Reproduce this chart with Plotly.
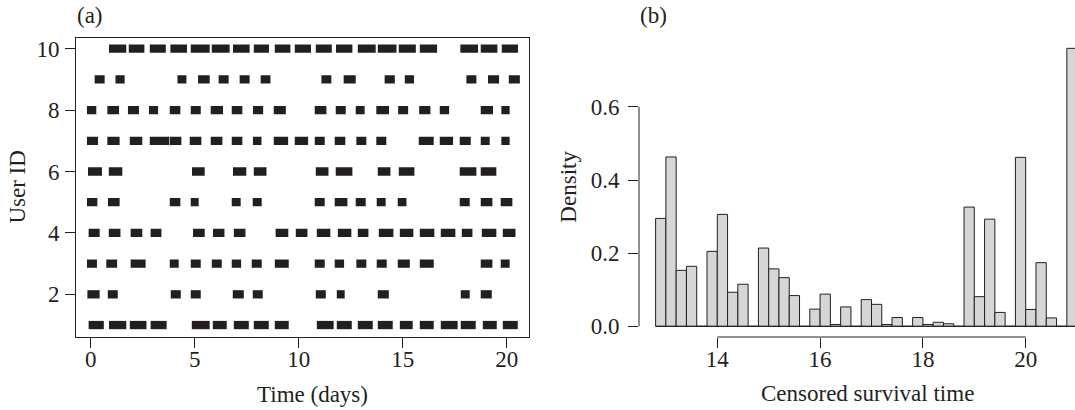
import plotly.graph_objects as go

# ---------------- Panel (a): sessions per user (start, end) in days ----------------
user_01 = [(-0.10, 0.63), (0.88, 1.71), (1.88, 2.68), (2.88, 3.65), (4.86, 5.72), (5.87, 6.54),
           (6.88, 7.60), (7.84, 8.56), (8.85, 9.52), (10.87, 11.68), (11.83, 12.55), (12.84, 13.56),
           (13.80, 14.52), (14.86, 15.48), (15.82, 16.49), (16.83, 17.64), (17.79, 18.51),
           (18.85, 19.52), (19.81, 20.53)]
user_02 = [(-0.16, 0.43), (0.82, 1.30), (3.85, 4.33), (4.81, 5.29), (6.83, 7.36), (7.79, 8.27),
           (10.82, 11.30), (11.83, 12.21), (13.80, 14.33), (17.79, 18.22), (18.75, 19.28)]
user_03 = [(-0.18, 0.30), (0.75, 1.27), (1.92, 2.64), (3.80, 4.23), (4.81, 5.29), (5.82, 6.30),
           (6.78, 7.23), (7.74, 8.22), (8.85, 9.52), (10.77, 11.25), (11.73, 12.18), (12.77, 13.25),
           (13.75, 14.23), (14.76, 15.34), (15.82, 16.49), (18.75, 19.31), (19.71, 20.14)]
user_04 = [(-0.10, 0.43), (0.87, 1.43), (1.92, 2.48), (2.88, 3.40), (4.92, 5.48), (5.88, 6.43),
           (6.88, 7.44), (8.89, 9.50), (9.86, 10.42), (10.87, 11.52), (11.88, 12.53), (12.84, 13.35),
           (13.85, 14.55), (14.86, 15.51), (15.82, 16.52), (16.83, 17.53), (17.84, 18.35),
           (18.80, 19.50), (19.81, 20.42)]
user_05 = [(-0.18, 0.32), (0.83, 1.39), (3.80, 4.31), (4.81, 5.19), (6.78, 7.21), (7.79, 8.22),
           (10.77, 11.25), (11.73, 12.34), (12.74, 13.22), (13.75, 14.18), (14.76, 15.18),
           (17.74, 18.22), (18.75, 19.31), (19.71, 20.27)]
user_06 = [(-0.13, 0.54), (0.87, 1.52), (4.87, 5.48), (6.84, 7.48), (7.84, 8.45), (10.82, 11.43),
           (11.78, 12.58), (13.80, 14.41), (14.81, 15.56), (17.74, 18.54), (18.75, 19.50)]
user_07 = [(-0.18, 0.35), (0.80, 1.39), (1.88, 2.48), (2.84, 3.77), (3.80, 4.36), (4.76, 5.32),
           (5.77, 6.33), (6.78, 7.29), (7.80, 8.21), (8.80, 9.49), (9.81, 10.45), (10.77, 11.25),
           (11.73, 12.24), (12.77, 13.25), (13.73, 14.21), (15.77, 16.49), (16.78, 17.42),
           (17.74, 18.27), (18.75, 19.18), (19.74, 20.14)]
user_08 = [(-0.18, 0.27), (0.80, 1.36), (1.79, 2.32), (2.80, 3.24), (3.80, 4.31), (4.81, 5.29),
           (5.77, 6.36), (6.78, 7.29), (7.80, 8.29), (8.80, 9.38), (10.77, 11.33), (11.78, 12.26),
           (12.74, 13.17), (13.73, 14.34), (14.78, 15.26), (15.79, 16.33), (16.78, 17.23),
           (18.75, 19.34), (19.74, 20.14)]
user_09 = [(0.19, 0.67), (1.19, 1.63), (4.17, 4.60), (5.16, 5.72), (6.15, 6.63), (7.16, 7.64),
           (8.17, 8.64), (11.09, 11.57), (12.16, 12.74), (14.13, 14.62), (15.10, 15.54),
           (18.06, 18.54), (19.10, 19.63), (20.10, 20.63)]
user_10 = [(0.88, 1.71), (1.83, 2.58), (2.84, 3.61), (3.83, 4.63), (4.81, 5.72), (5.82, 6.68),
           (6.84, 7.64), (7.84, 8.57), (8.85, 9.60), (9.81, 10.59), (10.82, 11.59), (11.79, 12.58),
           (12.84, 13.70), (13.80, 14.70), (14.81, 15.63), (15.82, 16.65), (17.77, 18.62),
           (18.75, 19.55), (19.76, 20.54)]

user_ids = [1, 2, 3, 4, 5, 6, 7, 8, 9, 10]
user_sessions = [user_01, user_02, user_03, user_04, user_05,
                 user_06, user_07, user_08, user_09, user_10]

a_xticks = [0, 5, 10, 15, 20]
a_yticks = [2, 4, 6, 8, 10]

# ---------------- Panel (b): histogram of censored survival time ----------------
bin_left = [12.8, 13.0, 13.2, 13.4, 13.6, 13.8, 14.0, 14.2, 14.4, 14.6,
            14.8, 15.0, 15.2, 15.4, 15.6, 15.8, 16.0, 16.2, 16.4, 16.6,
            16.8, 17.0, 17.2, 17.4, 17.6, 17.8, 18.0, 18.2, 18.4, 18.6,
            18.8, 19.0, 19.2, 19.4, 19.6, 19.8, 20.0, 20.2, 20.4, 20.6, 20.8]
density = [0.295, 0.463, 0.153, 0.164, 0.0, 0.205, 0.306, 0.093, 0.115, 0.0,
           0.214, 0.157, 0.133, 0.084, 0.0, 0.047, 0.088, 0.005, 0.053, 0.0,
           0.073, 0.060, 0.005, 0.024, 0.0, 0.024, 0.005, 0.011, 0.007, 0.0,
           0.326, 0.081, 0.293, 0.038, 0.0, 0.462, 0.046, 0.174, 0.023, 0.0, 0.76]
bin_width = 0.2
b_xticks = [14, 16, 18, 20]
b_yticks = [0.0, 0.2, 0.4, 0.6]
b_yticklabels = ["0.0", "0.2", "0.4", "0.6"]

# ---------------- layout constants (pixels) ----------------
W, H = 1075, 410
FONT = "Liberation Serif, Times New Roman, serif"
FS = 23
INK = "#231f20"

def px_x(p):
    return p / W

def px_y(p):
    return 1 - p / H

top_px, bot_px = 37, 338.5
a_left, a_right = 76, 529
b_left = 639

fig = go.Figure()

# panel (a) bars
seg_y, seg_base, seg_len = [], [], []
for uid, sess in zip(user_ids, user_sessions):
    for s, e in sess:
        seg_y.append(uid)
        seg_base.append(s)
        seg_len.append(e - s)

fig.add_trace(go.Bar(
    x=seg_len, y=seg_y, base=seg_base, orientation="h", width=0.27,
    marker=dict(color=INK, line=dict(width=0)),
    xaxis="x", yaxis="y", showlegend=False, hoverinfo="skip"))

# panel (b) histogram
centers = [b + bin_width / 2 for b in bin_left]
fig.add_trace(go.Bar(
    x=centers, y=density, width=bin_width,
    marker=dict(color="#d6d6d6", line=dict(color=INK, width=1)),
    xaxis="x2", yaxis="y2", showlegend=False, hoverinfo="skip"))
# baseline of the histogram (zero-count bins drawn as flat lines)
fig.add_trace(go.Scatter(
    x=[bin_left[0], bin_left[-1] + bin_width], y=[0, 0], mode="lines",
    line=dict(color=INK, width=1), xaxis="x2", yaxis="y2",
    showlegend=False, hoverinfo="skip", cliponaxis=False))

axis_common = dict(
    ticks="outside", ticklen=10, tickwidth=1, tickcolor=INK,
    tickfont=dict(family=FONT, size=FS, color=INK),
    showgrid=False, zeroline=False, fixedrange=True)

fig.update_layout(
    width=W, height=H,
    margin=dict(l=0, r=0, t=0, b=0),
    paper_bgcolor="white", plot_bgcolor="white",
    barmode="overlay",
    font=dict(family=FONT, size=FS, color=INK),
    xaxis=dict(domain=[px_x(a_left), px_x(a_right)], range=[-0.707, 21.07],
               tickvals=a_xticks, showline=True, linecolor=INK, linewidth=1,
               mirror=True, anchor="y", ticklabelstandoff=-9, **axis_common),
    yaxis=dict(domain=[px_y(bot_px), px_y(top_px)], range=[0.61, 10.357],
               tickvals=a_yticks, showline=True, linecolor=INK, linewidth=1,
               mirror=True, anchor="x", ticklabelstandoff=1, **axis_common),
    xaxis2=dict(domain=[px_x(b_left), 1.0], range=[12.477, 20.959],
                tickvals=b_xticks, showline=False, anchor="y2",
                ticklabelstandoff=-9, **axis_common),
    yaxis2=dict(domain=[px_y(bot_px), px_y(top_px)], range=[-0.0293, 0.789],
                tickvals=b_yticks, ticktext=b_yticklabels, showline=False,
                anchor="x2", ticklabelstandoff=4, **axis_common),
)

# R-style axis lines for panel (b): only between first and last ticks
fig.add_shape(type="line", xref="paper", yref="y2",
              x0=px_x(b_left), x1=px_x(b_left), y0=b_yticks[0], y1=b_yticks[-1],
              line=dict(color=INK, width=1))
fig.add_shape(type="line", xref="x2", yref="paper",
              x0=b_xticks[0], x1=b_xticks[-1], y0=px_y(bot_px), y1=px_y(bot_px),
              line=dict(color=INK, width=1))

def label(text, x, y, angle=0, xanchor="center", yanchor="middle"):
    fig.add_annotation(text=text, x=px_x(x), y=px_y(y), xref="paper", yref="paper",
                       showarrow=False, textangle=angle, xanchor=xanchor, yanchor=yanchor,
                       font=dict(family=FONT, size=FS, color=INK))

label("(a)", 75, 15, xanchor="left")
label("(b)", 638, 15, xanchor="left")
label("Time (days)", (a_left + a_right) / 2 + 10, 396)
label("Censored survival time", 867, 395)
label("User ID", 18, 188, angle=-90)
label("Density", 569, 187, angle=-90)

fig.write_html("out.html")
